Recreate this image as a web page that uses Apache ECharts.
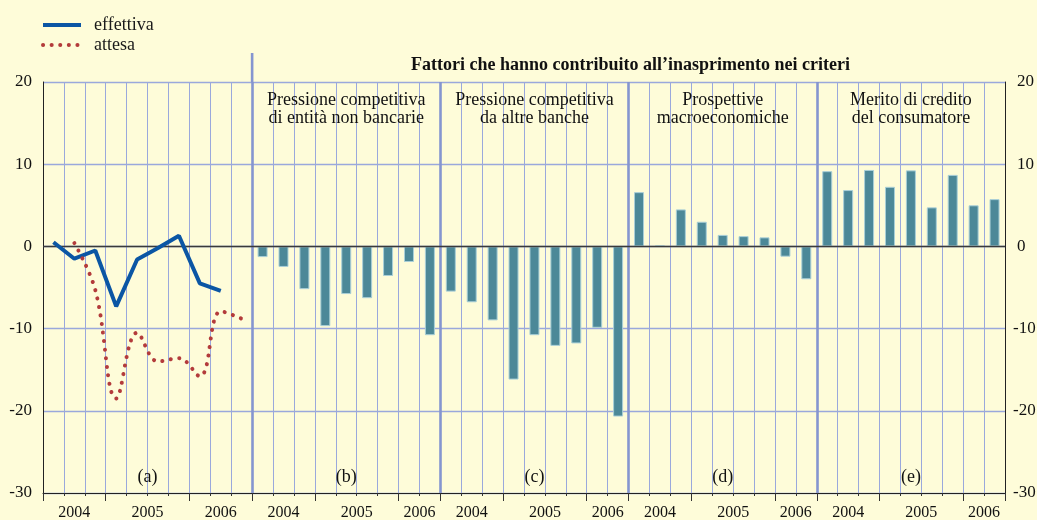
<!DOCTYPE html>
<html><head><meta charset="utf-8">
<script src="https://cdn.jsdelivr.net/npm/echarts@6/dist/echarts.min.js"></script>
<style>html,body{margin:0;padding:0;background:#FEFCD9;} #c{width:1037px;height:520px;}</style>
</head><body><div id="c"></div>
<script>
// ---- data ----
const periodsA = ['2004 T2','2004 T3','2004 T4','2005 T1','2005 T2','2005 T3','2005 T4','2006 T1','2006 T2','2006 T3'];
const periodsBE = ['2004 T2','2004 T3','2004 T4','2005 T1','2005 T2','2005 T3','2005 T4','2006 T1','2006 T2'];
const effettiva = [0.5, -1.5, -0.5, -7.3, -1.6, -0.2, 1.3, -4.5, -5.4, null];
const attesa = [null, 0.4, -5.3, -18.5, -10.5, -14.0, -13.6, -15.8, -7.9, -8.8];
const nonBancarie = [-1.3, -2.5, -5.2, -9.7, -5.8, -6.3, -3.6, -1.9, -10.8];
const altreBanche = [-5.5, -6.8, -9.0, -16.2, -10.8, -12.1, -11.8, -9.9, -20.7];
const macro = [6.6, 0.1, 4.5, 3.0, 1.4, 1.25, 1.1, -1.25, -4.0];
const meritoCredito = [9.15, 6.85, 9.3, 7.25, 9.25, 4.75, 8.7, 5.0, 5.75];
const yMin = -30, yMax = 20, yStep = 10;
const panelLetters = ['(a)','(b)','(c)','(d)','(e)'];
const panelTitles = ['', 'Pressione competitiva\ndi entità non bancarie', 'Pressione competitiva\nda altre banche', 'Prospettive\nmacroeconomiche', 'Merito di credito\ndel consumatore'];
const mainTitle = 'Fattori che hanno contribuito all’inasprimento nei criteri';
const legendNames = ['effettiva', 'attesa'];

// ---- build ----
const FONT = "'Liberation Serif','Times New Roman',serif";
const panelPeriods = [periodsA, periodsBE, periodsBE, periodsBE, periodsBE];
const categories = [], panelStart = [];
panelPeriods.forEach((pp, k) => { panelStart.push(categories.length); pp.forEach(q => categories.push(panelLetters[k] + ' ' + q)); });
const N = categories.length;
panelStart.push(N);

const effData = new Array(N).fill(null), attData = new Array(N).fill(null), barData = new Array(N).fill(null);
effettiva.forEach((v, i) => effData[panelStart[0] + i] = v);
attesa.forEach((v, i) => attData[panelStart[0] + i] = v);
[nonBancarie, altreBanche, macro, meritoCredito].forEach((arr, k) => arr.forEach((v, i) => barData[panelStart[k + 1] + i] = v));

const yearCenters = [], yearBounds = [], yearMap = {};
panelPeriods.forEach((pp, k) => {
  const s = panelStart[k]; let i = 0;
  while (i < pp.length) {
    const y = pp[i].slice(0, 4); let j = i;
    while (j < pp.length && pp[j].slice(0, 4) === y) j++;
    yearBounds.push(s + i);
    const c = s + (i + j) / 2; yearCenters.push(c); yearMap[c] = y;
    i = j;
  }
});
yearBounds.push(N);

const gridCol = '#9aa8dc';
const boundaryCol = '#8595d0';
const boundaryLines = panelStart.slice(1, 5).map(b => [
  { coord: [b, yMin] }, { coord: [b, yMax] }
]);

const chart = echarts.init(document.getElementById('c'));
chart.setOption({
  backgroundColor: '#FEFCD9',
  animation: false,
  textStyle: { fontFamily: FONT },
  grid: { left: 43, right: 32, top: 82, bottom: 27, containLabel: false, outerBoundsMode: 'none' },
  legend: {
    data: legendNames, orient: 'vertical', left: 41, top: 16, padding: 0,
    itemWidth: 38, itemHeight: 14, itemGap: 2,
    itemStyle: { opacity: 0 },
    lineStyle: { width: 'inherit' },
    textStyle: { fontFamily: FONT, fontSize: 18, color: '#1a1a1a', padding: [0, 0, 0, 8] }
  },
  xAxis: [
    { type: 'category', data: categories, boundaryGap: true,
      axisLine: { show: true, onZero: false, lineStyle: { color: '#222', width: 1 } },
      axisTick: { show: true, interval: 0, length: 3, lineStyle: { color: '#333' } },
      axisLabel: { show: false },
      splitLine: { show: true, interval: 0, lineStyle: { color: gridCol, width: 1 } } },
    { type: 'value', min: 0, max: N, position: 'bottom',
      axisLine: { show: false, onZero: false },
      axisTick: { show: true, customValues: yearBounds, length: 8, lineStyle: { color: '#333' } },
      axisLabel: { show: true, customValues: yearCenters, formatter: v => yearMap[v] || '',
        fontFamily: FONT, fontSize: 16, color: '#111', margin: 12 },
      splitLine: { show: false } }
  ],
  yAxis: [
    { type: 'value', min: yMin, max: yMax, interval: yStep, position: 'left',
      axisLine: { show: true, onZero: false, lineStyle: { color: '#222' } },
      axisTick: { show: false },
      axisLabel: { fontFamily: FONT, fontSize: 17, color: '#111', margin: 11 },
      splitLine: { show: true, lineStyle: { color: gridCol, width: 1.3 } } },
    { type: 'value', min: yMin, max: yMax, interval: yStep, position: 'right',
      axisLine: { show: true, onZero: false, lineStyle: { color: '#222' } },
      axisTick: { show: false },
      axisLabel: { fontFamily: FONT, fontSize: 17, color: '#111', margin: 8,
        formatter: v => v < 0 ? String(v) : '{p|' + v + '}',
        rich: { p: { fontFamily: FONT, fontSize: 17, color: '#111', padding: [0, 0, 0, 4] } } },
      splitLine: { show: false } }
  ],
  series: [
    { name: 'guides', type: 'line', xAxisIndex: 1, yAxisIndex: 0, data: [], clip: false, silent: true, z: 1,
      markLine: { silent: true, symbol: ['none', 'none'], label: { show: false },
        data: boundaryLines, lineStyle: { color: boundaryCol, width: 2.6, type: 'solid' } } },
    { name: 'fattori', type: 'bar', xAxisIndex: 0, yAxisIndex: 0, data: barData, barWidth: 10, z: 2,
      itemStyle: { color: '#4c8898', borderColor: '#a9cfd8', borderWidth: 1 } },
    { name: 'zero', type: 'line', xAxisIndex: 1, yAxisIndex: 0, data: [], clip: false, silent: true, z: 3,
      markLine: { silent: true, symbol: ['none', 'none'], label: { show: false },
        data: [{ yAxis: 0 }], lineStyle: { color: '#3a3a3a', width: 1.3, type: 'solid' } } },
    { name: 'effettiva', type: 'line', xAxisIndex: 0, yAxisIndex: 0, data: effData, z: 5,
      symbol: 'none', showSymbol: false, color: '#0b56a4',
      lineStyle: { color: '#0b56a4', width: 4 } },
    { name: 'attesa', type: 'line', xAxisIndex: 0, yAxisIndex: 0, data: attData, z: 5,
      symbol: 'none', showSymbol: false, smooth: 0.4, color: '#b33b3b',
      lineStyle: { color: '#b33b3b', width: 4, type: [0.1, 8.5], cap: 'round' } }
  ]
});

// texts and the raised first panel divider, placed by axis conversion
const px = v => chart.convertToPixel({ xAxisIndex: 1 }, v);
const py = v => chart.convertToPixel({ yAxisIndex: 0 }, v);
const graphics = [];
const bx = px(panelStart[1]);
graphics.push({ type: 'line', silent: true, z: 1,
  shape: { x1: bx, y1: py(yMax), x2: bx, y2: py(yMax) - 29 },
  style: { stroke: boundaryCol, lineWidth: 2.6 } });
panelLetters.forEach((l, k) => {
  const cx = px((panelStart[k] + panelStart[k + 1]) / 2);
  graphics.push({ type: 'text', x: cx, y: 477, silent: true,
    style: { text: l, font: '18px ' + FONT, fill: '#111', textAlign: 'center', textVerticalAlign: 'middle' } });
  if (panelTitles[k]) graphics.push({ type: 'text', x: cx, y: 92, silent: true,
    style: { text: panelTitles[k], font: '18px ' + FONT, lineHeight: 17.5, fill: '#111', textAlign: 'center', textVerticalAlign: 'top' } });
});
graphics.push({ type: 'text', x: px((panelStart[1] + N) / 2) + 2, y: 65, silent: true,
  style: { text: mainTitle, font: 'bold 18px ' + FONT, fill: '#111', textAlign: 'center', textVerticalAlign: 'middle' } });
chart.setOption({ graphic: graphics });
</script></body></html>
